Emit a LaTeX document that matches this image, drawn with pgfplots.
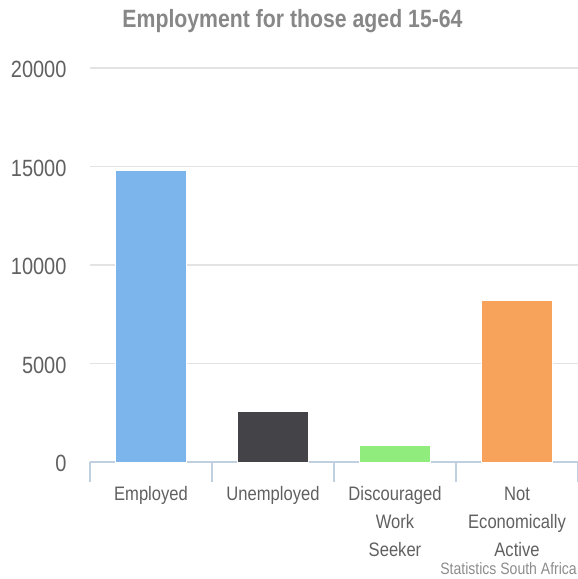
\documentclass[border=0pt]{standalone}
\usepackage{pgfplots}
\pgfplotsset{compat=1.18}
\usepackage{fontspec}
\setmainfont{Liberation Sans}[FakeStretch=0.85]
\definecolor{cemp}{HTML}{7CB5EC}
\definecolor{cunemp}{HTML}{434348}
\definecolor{cdisc}{HTML}{90ED7D}
\definecolor{cnea}{HTML}{F7A35C}
\definecolor{axisc}{HTML}{C0D0E0}
\definecolor{gridc}{HTML}{E3E3E3}
\definecolor{labc}{HTML}{606060}
\begin{document}
\begin{tikzpicture}[x=1pt,y=1pt]
\path[use as bounding box] (0,0) rectangle (578,579);
\begin{axis}[
    at={(90pt,117pt)}, anchor=south west,
    scale only axis,
    width=488pt, height=394pt,
    xmin=-0.5, xmax=3.5,
    ymin=0, ymax=20000,
    ytick={0,5000,10000,15000,20000},
    yticklabel style={font=\fontsize{23.5}{26}\selectfont, color=labc, xshift=-20pt, yshift=-1.5pt},
    scaled y ticks=false,
    /pgf/number format/assume math mode=true,
    /pgf/number format/1000 sep={},
    ymajorgrids, grid style={gridc, line width=1.2pt},
    ytick style={draw=none},
    axis y line*=left,
    y axis line style={draw=none},
    axis x line*=bottom,
    x axis line style={axisc, line width=1.2pt, -},
    xtick={0,1,2,3},
    xticklabels={Employed, Unemployed, {Discouraged\\Work\\Seeker}, {Not\\Economically\\Active}},
    xticklabel style={font=\fontsize{19.5}{28}\selectfont, color=labc, align=center, yshift=-17pt},
    xtick style={draw=none},
    extra x ticks={-0.5,0.5,1.5,2.5,3.5},
    extra x tick labels={},
    extra x tick style={xtick style={draw=axisc, line width=1.2pt}, major tick length=20pt, tick align=outside, grid=none},
    ybar, bar width=71pt,
    clip=false,
]
\addplot[bar shift=0pt, fill=cemp, draw=white] coordinates {(0,14810)};
\addplot[bar shift=0pt, fill=cunemp, draw=white] coordinates {(1,2557)};
\addplot[bar shift=0pt, fill=cdisc, draw=white] coordinates {(2,829)};
\addplot[bar shift=0pt, fill=cnea, draw=white] coordinates {(3,8236)};
\end{axis}
\node[font=\bfseries\fontsize{25}{30}\selectfont, color=black!47] at (292.5,558) {Employment for those aged 15-64};
\node[font=\fontsize{16.5}{20}\selectfont, color=black!45, anchor=south east, inner sep=0pt] at (577,4) {Statistics South Africa};
\end{tikzpicture}
\end{document}
